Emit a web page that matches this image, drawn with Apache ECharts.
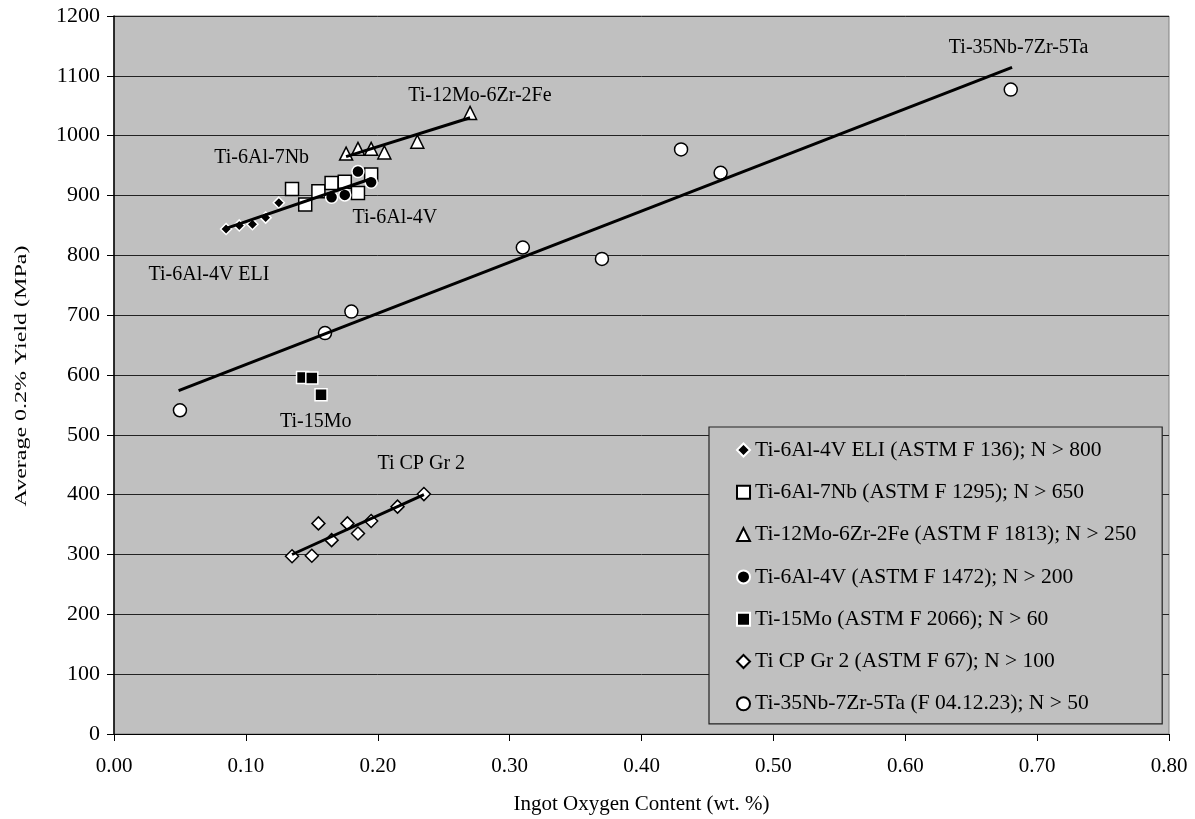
<!DOCTYPE html>
<html>
<head>
<meta charset="utf-8">
<script src="https://cdn.jsdelivr.net/npm/echarts@6/dist/echarts.min.js"></script>
<style>html,body{margin:0;padding:0;background:#fff}#c{width:1195px;height:819px}</style>
</head>
<body>
<div id="c"></div>
<script>
// ---- data (x = ingot oxygen wt.%, y = average 0.2% yield MPa) ----
const xMin = 0, xMax = 0.8, xStep = 0.1;
const yMin = 0, yMax = 1200, yStep = 100;
const xTitle = 'Ingot Oxygen Content (wt. %)';
const yTitle = 'Average 0.2% Yield (MPa)';

const seriesNames = [
  'Ti-6Al-4V ELI (ASTM F 136); N > 800',
  'Ti-6Al-7Nb (ASTM F 1295); N > 650',
  'Ti-12Mo-6Zr-2Fe (ASTM F 1813); N > 250',
  'Ti-6Al-4V (ASTM F 1472); N > 200',
  'Ti-15Mo (ASTM F 2066); N > 60',
  'Ti CP Gr 2 (ASTM F 67); N > 100',
  'Ti-35Nb-7Zr-5Ta (F 04.12.23); N > 50'
];

const eli  = [[0.085,844],[0.095,850],[0.105,852],[0.115,863],[0.125,888]];
const nb7  = [[0.135,911],[0.145,885],[0.155,907],[0.165,921],[0.175,923],[0.185,904],[0.195,935]];
const mo12 = [[0.176,970],[0.185,978],[0.195,978],[0.205,972],[0.23,990],[0.27,1038]];
const v4   = [[0.165,897],[0.175,901],[0.185,940],[0.195,922]];
const mo15 = [[0.143,596],[0.150,595],[0.157,567]];
const cp2  = [[0.135,297],[0.150,298],[0.155,352],[0.165,324],[0.177,352],[0.185,335],[0.195,356],[0.215,380],[0.235,401]];
const nb35 = [[0.05,541],[0.16,670],[0.18,706],[0.31,813],[0.37,794],[0.43,977],[0.46,938],[0.68,1077]];

// trend lines (end points)
const trendNb35 = [[0.049,574],[0.681,1114]];
const trendMo12 = [[0.176,965],[0.27,1030]];
const trendAl   = [[0.085,845],[0.195,928]];
const trendCp   = [[0.135,300],[0.235,400]];

// annotation labels [x, y, text]
const annotations = [
  [0.686,1147,'Ti-35Nb-7Zr-5Ta'],
  [0.2775,1066,'Ti-12Mo-6Zr-2Fe'],
  [0.112,963,'Ti-6Al-7Nb'],
  [0.213,862,'Ti-6Al-4V'],
  [0.072,768,'Ti-6Al-4V ELI'],
  [0.153,522,'Ti-15Mo'],
  [0.233,451,'Ti CP Gr 2']
];

// ---- chart ----
const FONT = '"Liberation Serif", "Times New Roman", serif';
const styles = [
  {symbol:'diamond',  size:11, color:'#000', border:'#fff'},
  {symbol:'rect',     size:13, color:'#fff', border:'#000'},
  {symbol:'triangle', size:13, color:'#fff', border:'#000'},
  {symbol:'circle',   size:12, color:'#000', border:'#fff'},
  {symbol:'rect',     size:12, color:'#000', border:'#fff'},
  {symbol:'diamond',  size:13, color:'#fff', border:'#000'},
  {symbol:'circle',   size:13, color:'#fff', border:'#000'}
];
const dataSets = [eli, nb7, mo12, v4, mo15, cp2, nb35];

const scatterSeries = dataSets.map((d, i) => ({
  type: 'scatter',
  name: seriesNames[i],
  data: d,
  symbol: styles[i].symbol,
  symbolSize: styles[i].size,
  itemStyle: {color: styles[i].color, borderColor: styles[i].border, borderWidth: 1.5, opacity: 1},
  z: 2,
  silent: true
}));

const trendSeries = [trendNb35, trendMo12, trendAl, trendCp].map(t => ({
  type: 'line',
  data: t,
  symbol: 'none',
  lineStyle: {color: '#000', width: 3},
  z: 3,
  silent: true
}));

const labelSeries = {
  type: 'scatter',
  data: annotations.map(a => ({value: [a[0], a[1]], name: a[2]})),
  symbolSize: 1,
  itemStyle: {color: 'rgba(0,0,0,0)', borderWidth: 0},
  label: {
    show: true, position: 'inside', formatter: p => p.name,
    color: '#000', fontFamily: FONT, fontSize: 20, opacity: 1
  },
  silent: true,
  z: 4
};

const chart = echarts.init(document.getElementById('c'));
chart.setOption({
  backgroundColor: '#fff',
  animation: false,
  textStyle: {fontFamily: FONT},
  grid: {
    left: 114, right: 26, top: 16, bottom: 85,
    outerBoundsMode: 'none',
    show: true, backgroundColor: '#c0c0c0', borderColor: '#808080', borderWidth: 1
  },
  graphic: [{
    type: 'text',
    x: 22, y: 376,
    rotation: Math.PI / 2,
    scaleX: 1.5,
    style: {
      text: yTitle, fill: '#000', font: '16px ' + FONT,
      align: 'center', verticalAlign: 'middle'
    },
    silent: true
  }],
  xAxis: {
    type: 'value', min: xMin, max: xMax, interval: xStep,
    name: xTitle, nameLocation: 'middle', nameGap: 60,
    nameTextStyle: {fontFamily: FONT, fontSize: 21, color: '#000'},
    axisLine: {show: true, lineStyle: {color: '#000', width: 1}},
    axisTick: {show: true, inside: false, length: 7, lineStyle: {color: '#000'}},
    axisLabel: {fontFamily: FONT, fontSize: 21, color: '#000', margin: 22, formatter: v => v.toFixed(2)},
    splitLine: {show: false}
  },
  yAxis: {
    type: 'value', min: yMin, max: yMax, interval: yStep,
    axisLine: {show: true, lineStyle: {color: '#000', width: 1.5}},
    axisTick: {show: true, inside: false, length: 7, lineStyle: {color: '#000'}},
    axisLabel: {fontFamily: FONT, fontSize: 22, color: '#000', margin: 14, formatter: v => String(v)},
    splitLine: {show: true, lineStyle: {color: '#222', width: 1}}
  },
  legend: {
    data: seriesNames,
    orient: 'vertical',
    left: 709, top: 427,
    padding: [12, 26, 9, 27],
    itemGap: 20.3,
    itemWidth: 13, itemHeight: 13,
    backgroundColor: '#c0c0c0',
    borderColor: '#222', borderWidth: 1.2,
    textStyle: {fontFamily: FONT, fontSize: 21.5, color: '#000', lineHeight: 22},
    selectedMode: false
  },
  series: [...scatterSeries, ...trendSeries, labelSeries]
});
</script>
</body>
</html>
